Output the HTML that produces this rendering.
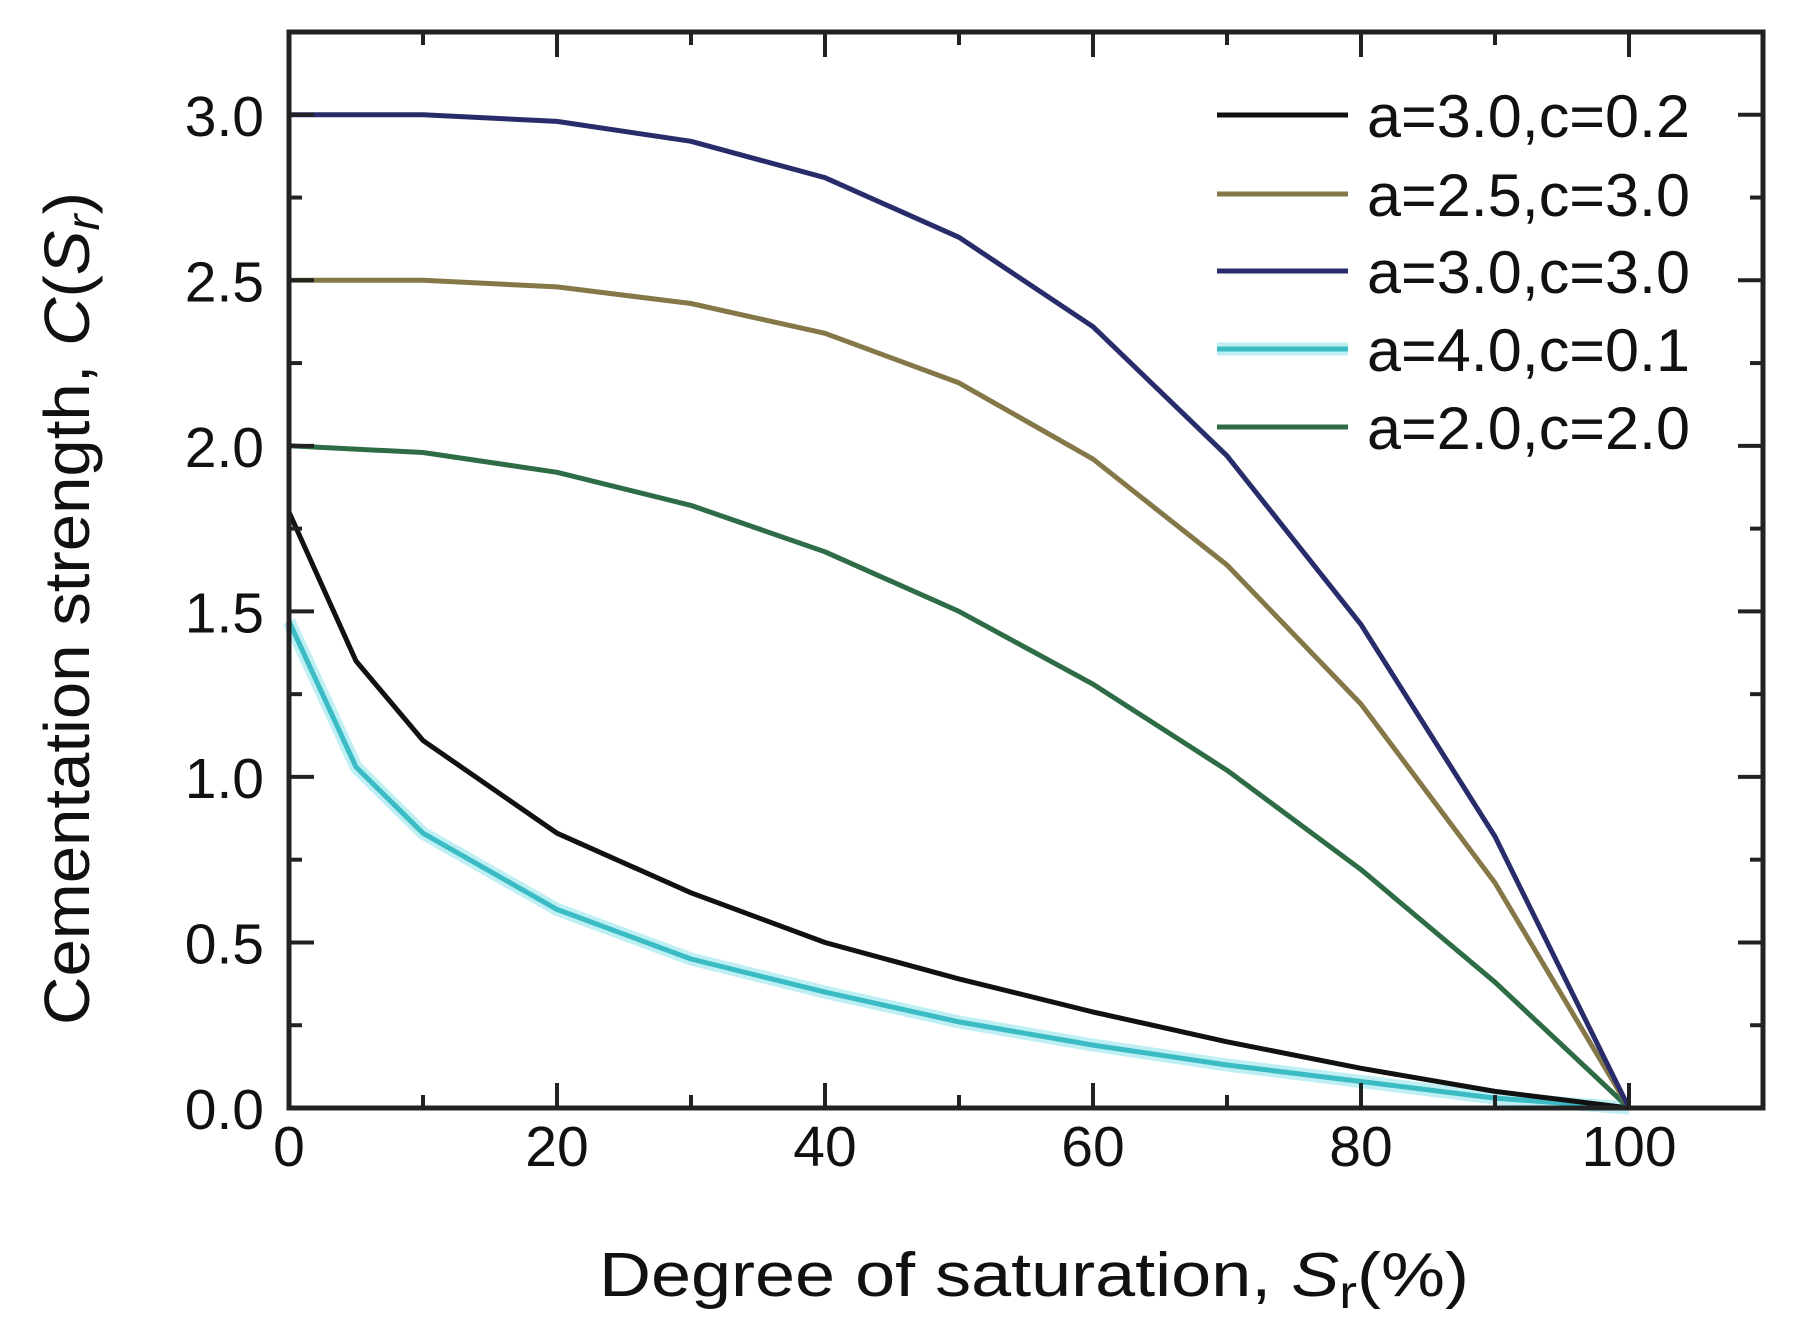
<!DOCTYPE html>
<html><head><meta charset="utf-8"><style>
html,body{margin:0;padding:0;background:#fff;}
svg{display:block;font-family:"Liberation Sans",Arial,sans-serif;}
</style></head><body>
<svg id="chart" width="1797" height="1335" viewBox="0 0 1797 1335" xmlns="http://www.w3.org/2000/svg">
<g id="series"></g>
<g id="axes"></g>
<g id="legend"></g>
<text x="599" y="1296" font-size="62" textLength="870" lengthAdjust="spacingAndGlyphs" fill="#111">Degree of saturation,  <tspan font-style="italic">S</tspan><tspan font-size="46" dy="12">r</tspan><tspan dy="-12">(%)</tspan></text>
<text transform="translate(89,1025) rotate(-90)" x="0" y="0" font-size="64" textLength="833" lengthAdjust="spacingAndGlyphs" fill="#111">Cementation strength,  <tspan font-style="italic">C</tspan>(<tspan font-style="italic">S</tspan><tspan font-style="italic" font-size="46" dy="10">r</tspan><tspan dy="-10">)</tspan></text>
</svg>
<script>
const xValsDense = [0,5,10,20,30,40,50,60,70,80,90,100];
const xValsSparse = [0,10,20,30,40,50,60,70,80,90,100];
const blueVals = [3.0,3.0,2.98,2.92,2.81,2.63,2.36,1.97,1.46,0.82,0];
const tanVals = [2.5,2.5,2.48,2.43,2.34,2.19,1.96,1.64,1.22,0.68,0];
const greenVals = [2.0,1.98,1.92,1.82,1.68,1.5,1.28,1.02,0.72,0.38,0];
const blackVals = [1.8,1.35,1.11,0.83,0.65,0.5,0.39,0.29,0.2,0.12,0.05,0];
const cyanVals = [1.47,1.03,0.83,0.6,0.45,0.35,0.26,0.19,0.13,0.08,0.03,0];
const seriesLabels = ["a=3.0,c=0.2","a=2.5,c=3.0","a=3.0,c=3.0","a=4.0,c=0.1","a=2.0,c=2.0"];
const xTickLabels = ["0","20","40","60","80","100"];
const yTickLabels = ["0.0","0.5","1.0","1.5","2.0","2.5","3.0"];

const NS="http://www.w3.org/2000/svg";
const L=289,R=1763,T=32,B=1108,xMax=110,yMax=3.25;
const xs=v=>L+(v/xMax)*(R-L);
const ys=v=>B-(v/yMax)*(B-T);
function mk(tag,attrs,parent){const e=document.createElementNS(NS,tag);for(const k in attrs)e.setAttribute(k,attrs[k]);parent.appendChild(e);return e;}
const gS=document.getElementById('series'),gA=document.getElementById('axes'),gL=document.getElementById('legend');

const series=[
 {xv:xValsDense,yv:blackVals,c:"#111111",w:5,name:"series-a3-c0-2"},
 {xv:xValsSparse,yv:tanVals,c:"#857848",w:5,name:"series-a2-5-c3"},
 {xv:xValsSparse,yv:blueVals,c:"#282c6a",w:5,name:"series-a3-c3"},
 {xv:xValsDense,yv:cyanVals,c:"#3bbcc4",w:5,name:"series-a4-c0-1",glow:true},
 {xv:xValsSparse,yv:greenVals,c:"#2e6c46",w:5,name:"series-a2-c2"}
];
const order=[3,0,4,1,2];
order.forEach(i=>{
 const s=series[i];
 const d=s.xv.map((x,j)=>(j?'L':'M')+xs(x).toFixed(1)+' '+ys(s.yv[j]).toFixed(1)).join(' ');
 if(s.glow){const g=mk('path',{d:d,fill:'none',stroke:'#bdeff3','stroke-width':13,'stroke-linejoin':'round'},gS);
 
 }
 const p=mk('path',{d:d,fill:'none',stroke:s.c,'stroke-width':s.w,'stroke-linejoin':'round'},gS);
 
 
});

const fr=mk('rect',{x:L,y:T,width:R-L,height:B-T,fill:'none',stroke:'#222','stroke-width':5},gA);


for(let v=0;v<=xMax;v+=10){
 const major=v%20===0&&v<=100;const len=major?25:13;const x=xs(v);
 const t1=mk('line',{x1:x,y1:B,x2:x,y2:B-len,stroke:'#222','stroke-width':4},gA);
 
 
 const t2=mk('line',{x1:x,y1:T,x2:x,y2:T+len,stroke:'#222','stroke-width':4},gA);
 
 
}
xTickLabels.forEach(lbl=>{
 const t=mk('text',{x:xs(+lbl),y:1166,'font-size':57,'text-anchor':'middle',fill:'#111'},gA);
 t.textContent=lbl;
 
 
});
for(let k=0;k*0.25<=yMax+1e-9;k++){
 const v=k*0.25;const major=k%2===0;const len=major?25:13;const y=ys(v);
 const t1=mk('line',{x1:L,y1:y,x2:L+len,y2:y,stroke:'#222','stroke-width':4},gA);
 
 
 const t2=mk('line',{x1:R,y1:y,x2:R-len,y2:y,stroke:'#222','stroke-width':4},gA);
 
 
}
yTickLabels.forEach(lbl=>{
 const t=mk('text',{x:264,y:ys(+lbl)+21,'font-size':57,'text-anchor':'end',fill:'#111'},gA);
 t.textContent=lbl;
 
 
});
const legY=[115,194,271,349,427];
seriesLabels.forEach((lbl,i)=>{
 const s=series[i];const y=legY[i];
 if(s.glow){const g=mk('line',{x1:1217,y1:y,x2:1348,y2:y,stroke:'#bdeff3','stroke-width':13},gL);
 
 }
 const ln=mk('line',{x1:1217,y1:y,x2:1348,y2:y,stroke:s.c,'stroke-width':s.w},gL);
 
 
 const t=mk('text',{x:1367,y:y+22,'font-size':60,textLength:323,lengthAdjust:'spacingAndGlyphs',fill:'#111'},gL);
 t.textContent=lbl;
 
 
});
</script>
</body></html>
